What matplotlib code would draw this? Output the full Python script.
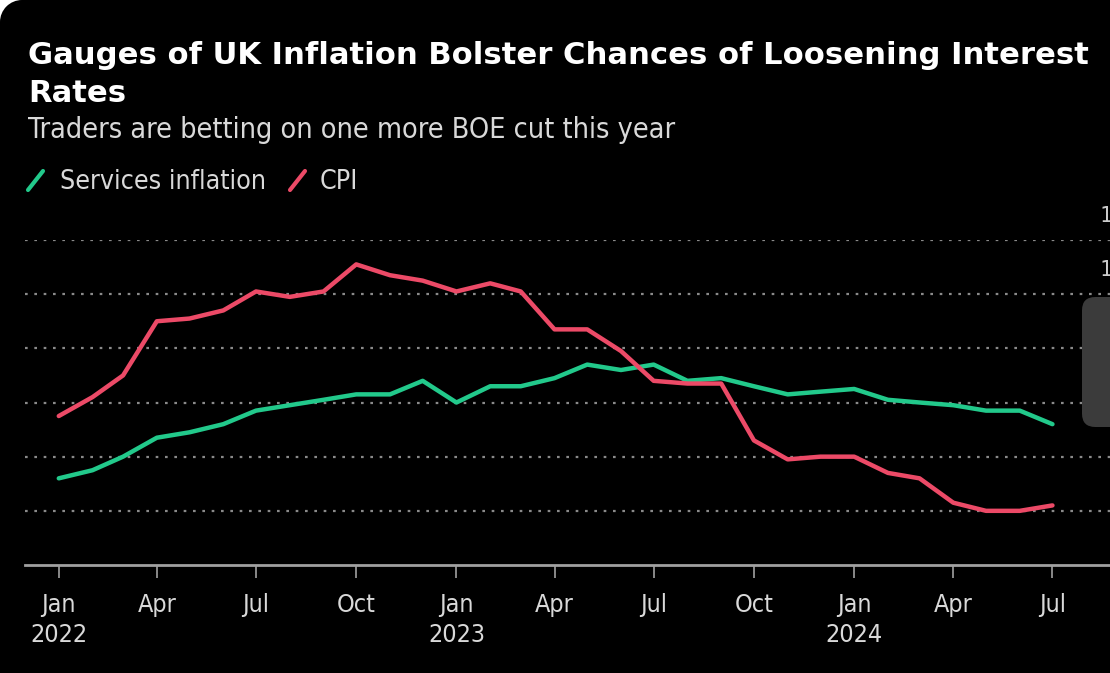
import matplotlib
matplotlib.use("Agg")
import matplotlib.pyplot as plt
import matplotlib.dates as mdates
from matplotlib.patches import FancyBboxPatch, Rectangle, Ellipse
from matplotlib.lines import Line2D
import pandas as pd
import datetime

months = pd.date_range("2022-01-01", "2024-07-01", freq="MS")
services = [3.2, 3.5, 4.0, 4.7, 4.9, 5.2, 5.7, 5.9, 6.1, 6.3, 6.3, 6.8,
            6.0, 6.6, 6.6, 6.9, 7.4, 7.2, 7.4, 6.8, 6.9, 6.6, 6.3, 6.4,
            6.5, 6.1, 6.0, 5.9, 5.7, 5.7, 5.2]
cpi = [5.5, 6.2, 7.0, 9.0, 9.1, 9.4, 10.1, 9.9, 10.1, 11.1, 10.7, 10.5,
       10.1, 10.4, 10.1, 8.7, 8.7, 7.9, 6.8, 6.7, 6.7, 4.6, 3.9, 4.0,
       4.0, 3.4, 3.2, 2.3, 2.0, 2.0, 2.2]
y_ticks = [2, 4, 6, 8, 10, 12]
y_labels = ["2%", "4%", "6%", "8%", "10%", "12%"]

GREEN = "#22c98b"
RED = "#ec4a67"
GRID = "#8a8a8a"
TXT = "#d9d9d9"

W, H = 1110, 673
fig = plt.figure(figsize=(W / 100, H / 100), dpi=100, facecolor="black")

# rounded top-left corner of the card (white outside)
R = 22
fig.patches.append(Rectangle((0, 1 - R / H), R / W, R / H, transform=fig.transFigure,
                             facecolor="white", edgecolor="none", zorder=-5))
fig.patches.append(Ellipse((R / W, 1 - R / H), 2 * R / W, 2 * R / H,
                           transform=fig.transFigure, facecolor="black",
                           edgecolor="none", zorder=-4))

ax = fig.add_axes([25 / W, 1 - 565 / H, 1 - 25 / W + 0.01, 325 / H])
ax.set_facecolor("none")
ax.plot(months, services, color=GREEN, lw=3.2, solid_capstyle="round", zorder=3)
ax.plot(months, cpi, color=RED, lw=3.2, solid_capstyle="round", zorder=3)

ax.set_ylim(0, 12)
ax.set_xlim(datetime.date(2021, 12, 1), datetime.date(2024, 9, 2))
for s in ["top", "right", "left"]:
    ax.spines[s].set_visible(False)
ax.spines["bottom"].set_color("#a0a0a0")
ax.spines["bottom"].set_linewidth(2)
ax.set_yticks(y_ticks)
ax.set_yticklabels([])
ax.tick_params(axis="y", length=0)
ax.yaxis.grid(True, color=GRID, linestyle=(0, (1.2, 3)), linewidth=1.6)
# right-hand value labels sit above the gridlines, mostly past the edge
for yv, lab in zip(y_ticks, y_labels):
    ax.annotate(lab, xy=(1, yv), xycoords=("figure fraction", "data"),
                xytext=(1137 - W, 14), textcoords="offset pixels",
                ha="right", va="bottom", color="#cccccc", fontsize=15,
                family="DejaVu Sans Mono", annotation_clip=False)

ax.xaxis.set_major_locator(mdates.MonthLocator(bymonth=[1, 4, 7, 10]))


def fmt(x, pos=None):
    d = mdates.num2date(x)
    if d.month == 1:
        return d.strftime("%b\n%Y")
    return d.strftime("%b")


ax.xaxis.set_major_formatter(plt.FuncFormatter(fmt))
ax.tick_params(axis="x", colors="#a0a0a0", length=9, width=1.2, pad=11,
               labelcolor=TXT, labelsize=18)
for t in ax.get_xticklabels():
    t.set_fontstretch("condensed")
    t.set_linespacing(1.35)

fig.text(28 / W, 1 - 64 / H, "Gauges of UK Inflation Bolster Chances of Loosening Interest",
         color="white", fontsize=22.1, fontweight="bold", va="baseline")
fig.text(28 / W, 1 - 102 / H, "Rates", color="white", fontsize=22.1,
         fontweight="bold", va="baseline")
fig.text(28 / W, 1 - 138 / H, "Traders are betting on one more BOE cut this year",
         color=TXT, fontsize=20.6, fontstretch="condensed", va="baseline")

# legend
fig.add_artist(Line2D([28 / W, 43 / W], [1 - 190 / H, 1 - 171 / H], color=GREEN,
                      lw=3, solid_capstyle="round"))
fig.text(60 / W, 1 - 189 / H, "Services inflation", color=TXT, fontsize=19.2,
         fontstretch="condensed", va="baseline")
fig.add_artist(Line2D([290 / W, 305 / W], [1 - 190 / H, 1 - 171 / H], color=RED,
                      lw=3, solid_capstyle="round"))
fig.text(320 / W, 1 - 189 / H, "CPI", color=TXT, fontsize=19.2,
         fontstretch="condensed", va="baseline")

# grey overlay box on the right edge
fig.patches.append(FancyBboxPatch((1082 / W, 1 - 427 / H), 60 / W, 130 / H,
                                  boxstyle="round,pad=0,rounding_size=0.012",
                                  transform=fig.transFigure, facecolor="#3b3b3b",
                                  edgecolor="none", mutation_aspect=W / H, zorder=10))

fig.savefig("out.png", dpi=100, facecolor=fig.get_facecolor())
